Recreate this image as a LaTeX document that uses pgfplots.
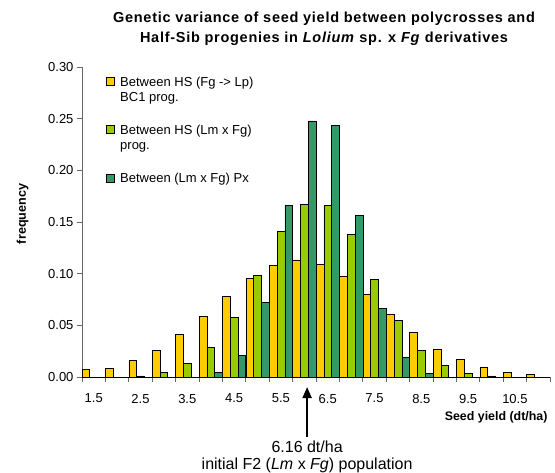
\documentclass[border=0pt]{standalone}
\usepackage{pgfplots}
\pgfplotsset{compat=1.18}
\usepackage{fontspec}
\setmainfont{Liberation Sans}
\usetikzlibrary{arrows.meta}
\definecolor{cyel}{HTML}{FFCC00}
\definecolor{clg}{HTML}{99CC00}
\definecolor{cdg}{HTML}{339966}
\begin{document}
\begin{tikzpicture}
\begin{axis}[
  scale only axis, width=468bp, height=310bp,
  xmin=-0.5, xmax=19.5, ymin=0, ymax=0.30,
  clip=false,
  ybar=0pt, bar width=0.3333,
  axis x line*=bottom, axis y line*=left,
  x axis line style={black, line width=0.8bp},
  y axis line style={gray!80!black, line width=0.8bp},
  xtick={-0.5,0.5,...,19.5}, xticklabels={},
  extra x ticks={0,2,...,18},
  extra x tick labels={1.5,2.5,3.5,4.5,5.5,6.5,7.5,8.5,9.5,10.5},
  extra x tick style={major tick length=0pt, xticklabel style={yshift=-13.5bp}},
  ytick={0,0.05,0.1,0.15,0.2,0.25,0.3},
  yticklabel style={/pgf/number format/.cd, fixed, fixed zerofill, precision=2},
  tick style={gray!80!black, line width=0.8bp},
  major tick length=5bp,
  tick align=outside,
  tick label style={font=\fontsize{13bp}{15bp}\selectfont},
  /pgf/number format/assume math mode=true,
  ylabel={frequency},
  ylabel style={font=\bfseries\fontsize{12.6bp}{14bp}\selectfont, at={(axis description cs:-0.127,0.526)}, anchor=center},
  xlabel={Seed yield (dt/ha)},
  xlabel style={font=\bfseries\fontsize{12.4bp}{14bp}\selectfont, at={(axis description cs:1,0)}, anchor=east, yshift=-40bp, xshift=1bp},
  legend style={draw=none, fill=none, at={(0.05,0.975)}, anchor=north west,
    font=\fontsize{13bp}{15bp}\selectfont, cells={align=left}, row sep=18bp, inner sep=0pt},
  legend cell align=left,
  legend image code/.code={\draw[#1, draw=black, line width=0.6bp] (0bp,-4bp) rectangle (8bp,4bp); \path (12bp,0bp);},
]
\addplot[fill=cyel, draw=black, line width=0.6bp, legend image post style={yshift=8.5bp}] coordinates {
(0,0.0074) (1,0.0084) (2,0.0158) (3,0.026) (4,0.041) (5,0.0586) (6,0.078) (7,0.0956) (8,0.108) (9,0.1133)
(10,0.1091) (11,0.0976) (12,0.0802) (13,0.0609) (14,0.0431) (15,0.027) (16,0.0167) (17,0.0097) (18,0.0042) (19,0.0023)};
\addlegendentry{Between HS (Fg -> Lp)\\BC1 prog.}
\addplot[fill=clg, draw=black, line width=0.6bp, legend image post style={yshift=8.5bp}] coordinates {
(2,0.001) (3,0.0045) (4,0.0129) (5,0.0283) (6,0.0576) (7,0.098) (8,0.1407) (9,0.1671)
(10,0.1658) (11,0.1378) (12,0.0947) (13,0.0547) (14,0.026) (15,0.0109) (16,0.0032) (17,0.001)};
\addlegendentry{Between HS (Lm x Fg)\\prog.}
\addplot[fill=cdg, draw=black, line width=0.6bp] coordinates {
(5,0.0045) (6,0.021) (7,0.0724) (8,0.1658) (9,0.2479)
(10,0.2437) (11,0.1565) (12,0.0666) (13,0.019) (14,0.0032)};
\addlegendentry{Between (Lm x Fg) Px}
\draw[-{Triangle[length=11bp,width=9bp]}, line width=2bp] (axis cs:9.12,-0.058) -- (axis cs:9.12,-0.0097);
\node[font=\fontsize{16bp}{18bp}\selectfont] at (axis cs:9.12,-0.0675) {6.16 dt/ha};
\node[font=\fontsize{16bp}{18bp}\selectfont] at (axis cs:9.12,-0.0855) {initial F2 (\textit{Lm} x \textit{Fg}) population};
\end{axis}
\node[align=center, font=\bfseries\fontsize{14.5bp}{19.5bp}\selectfont\addfontfeature{LetterSpace=5}] at (242bp,348bp)
  {Genetic variance of seed yield between polycrosses and\\Half-Sib progenies in \textit{Lolium} sp. x \textit{Fg} derivatives};
\pgfresetboundingbox
\path[use as bounding box] (-82bp,-96bp) rectangle (473bp,377bp);
\end{tikzpicture}
\end{document}
